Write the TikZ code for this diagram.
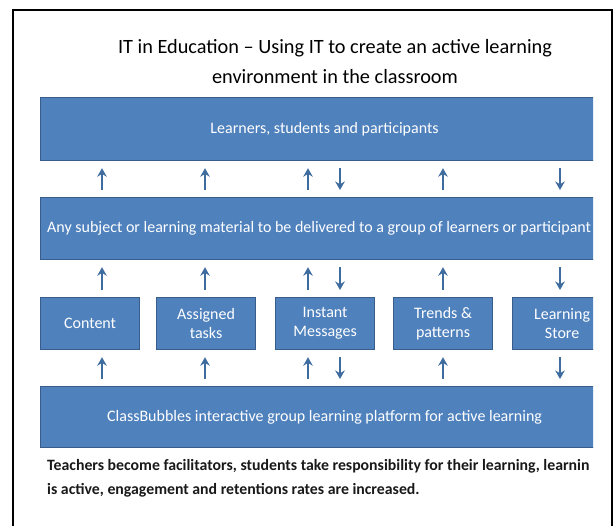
\documentclass[tikz,border=0pt]{standalone}
\usepackage{fontspec}
\setmainfont{Carlito}
\usetikzlibrary{arrows.meta}
\definecolor{boxblue}{RGB}{79,129,189}
\definecolor{boxline}{RGB}{56,93,138}
\definecolor{arrowblue}{RGB}{62,108,158}

\begin{document}
\begin{tikzpicture}[x=1pt,y=-1pt,
                bar/.style = {draw=boxline, fill=boxblue, line width=1.2pt, anchor=north west,
                              minimum width=568pt, text=white, font=\fontsize{16}{19}\selectfont},
                small/.style = {draw=boxline, fill=boxblue, line width=1.2pt, anchor=north west,
                                minimum width=99pt, minimum height=52pt, inner sep=2pt, text=white,
                                align=center, font=\fontsize{16}{19}\selectfont},
                link/.style = {draw=arrowblue, line width=1.9pt, -{Stealth[length=8.5pt,width=9.5pt]},
                               shorten <=7pt, shorten >=7pt}]
                \useasboundingbox (0,0) rectangle (614,526);
                \draw[line width=2pt] (13,526) -- (13,10) -- (612,10) -- (612,526);
                \node[align=center, font=\fontsize{20.3}{30}\selectfont] (title) at (335,62)
                    {IT in Education -- Using IT to create an active learning\\environment in the classroom};
                \begin{scope}
                \clip (30,90) rectangle (593,510);
                \node[bar, minimum height=63pt] (learners) at (40,97) {Learners, students and participants};
                \node[bar, minimum height=62pt] (material) at (40,197) {};
                \node[anchor=west, text=white, font=\fontsize{16}{19}\selectfont, inner sep=0pt] (materialtext)
                    at (47,228) {Any subject or learning material to be delivered to a group of learners or participant};
                \node[small] (content) at (40,297) {Content};
                \node[small] (tasks) at (156,297) {Assigned\\tasks};
                \node[small] (messages) at (275,297) {Instant\\Messages};
                \node[small] (trends) at (393,297) {Trends \&\\patterns};
                \node[small] (store) at (512,297) {Learning\\Store};
                \node[bar, minimum height=61pt] (platform) at (40,386)
                    {ClassBubbles interactive group learning platform for active learning};
                \node[anchor=west, align=left, inner sep=0pt, text=black!90,
                      font=\bfseries\fontsize{15.8}{24}\selectfont] (note) at (47,478)
                    {Teachers become facilitators, students take responsibility for their learning, learnin\\
                     is active, engagement and retentions rates are increased.};
                \end{scope}
                \coordinate (a1) at (102,0);
                \coordinate (a2) at (205,0);
                \coordinate (a3) at (308,0);
                \coordinate (a4) at (340,0);
                \coordinate (a5) at (443,0);
                \coordinate (a6) at (560,0);
                \path[every edge/.style=link]
                    (a1 |- material.north) edge (a1 |- learners.south)
                    (a2 |- material.north) edge (a2 |- learners.south)
                    (a3 |- material.north) edge (a3 |- learners.south)
                    (a4 |- learners.south) edge (a4 |- material.north)
                    (a5 |- material.north) edge (a5 |- learners.south)
                    (a6 |- learners.south) edge (a6 |- material.north);
                \path[every edge/.style=link]
                    (a1 |- content.north) edge (a1 |- material.south)
                    (a2 |- tasks.north) edge (a2 |- material.south)
                    (a3 |- messages.north) edge (a3 |- material.south)
                    (a4 |- material.south) edge (a4 |- messages.north)
                    (a5 |- trends.north) edge (a5 |- material.south)
                    (a6 |- material.south) edge (a6 |- store.north);
                \path[every edge/.style=link]
                    (a1 |- platform.north) edge (a1 |- content.south)
                    (a2 |- platform.north) edge (a2 |- tasks.south)
                    (a3 |- platform.north) edge (a3 |- messages.south)
                    (a4 |- messages.south) edge (a4 |- platform.north)
                    (a5 |- platform.north) edge (a5 |- trends.south)
                    (a6 |- store.south) edge (a6 |- platform.north);
            \end{tikzpicture}
\end{document}
